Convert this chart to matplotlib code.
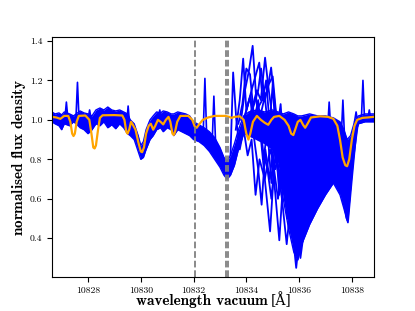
import numpy as np
import matplotlib
matplotlib.use("Agg")
import matplotlib.pyplot as plt

plt.rcParams['font.family'] = 'serif'
plt.rcParams['font.serif'] = ['cmr10']
plt.rcParams['mathtext.fontset'] = 'cm'
plt.rcParams['axes.formatter.use_mathtext'] = False
plt.rcParams['axes.unicode_minus'] = False

# He I triplet (vacuum)
he_lines = [10832.057, 10833.217, 10833.306]

# dense band of stacked spectra: upper / lower envelope
band_wl = [10826.63, 10826.75, 10826.9, 10827.0, 10827.1, 10827.3, 10827.45, 10827.55, 10827.7,
           10827.85, 10828.0, 10828.15, 10828.3, 10828.45, 10828.6, 10828.75, 10828.9, 10829.05,
           10829.2, 10829.35, 10829.5, 10829.6, 10829.75, 10829.9, 10830.0, 10830.1, 10830.2,
           10830.35, 10830.47, 10830.6, 10830.75, 10830.85, 10831.0, 10831.15, 10831.25, 10831.4,
           10831.55, 10831.7, 10831.85, 10832.0, 10832.2, 10832.4, 10832.6, 10832.8, 10833.0,
           10833.15, 10833.27, 10833.4, 10833.55, 10833.7, 10833.9, 10834.1, 10834.4, 10834.7,
           10835.0, 10835.2, 10835.4, 10835.6, 10835.8, 10835.95, 10836.1, 10836.4, 10836.7,
           10837.0, 10837.3, 10837.55, 10837.7, 10837.82, 10837.95, 10838.1, 10838.25, 10838.5,
           10838.82]
band_hi = [1.04, 1.03, 1.035, 1.025, 1.04, 1.03, 1.02, 1.03, 1.045,
           1.035, 1.03, 1.02, 1.05, 1.06, 1.05, 1.065, 1.05, 1.045,
           1.05, 1.04, 1.03, 1.0, 0.98, 0.92, 0.87, 0.89, 0.95,
           1.0, 1.02, 1.04, 1.035, 1.045, 1.04, 1.03, 1.03, 1.04,
           1.035, 1.03, 1.02, 0.99, 0.975, 0.96, 0.94, 0.91, 0.86,
           0.81, 0.79, 0.82, 0.88, 0.95, 1.02, 1.04, 1.05, 1.04,
           1.05, 1.04, 1.03, 1.04, 1.03, 1.02, 1.02, 1.03, 1.02,
           1.02, 1.01, 0.99, 0.95, 0.9, 0.92, 0.99, 1.02, 1.03,
           1.03]
band_lo = [0.99, 0.98, 0.97, 0.95, 0.98, 0.97, 0.99, 0.98, 0.96,
           0.95, 0.93, 0.95, 0.98, 0.97, 0.99, 0.96, 0.975, 0.955,
           0.98, 0.96, 0.93, 0.92, 0.9, 0.84, 0.80, 0.81, 0.85,
           0.9, 0.92, 0.95, 0.96, 0.94, 0.96, 0.95, 0.92, 0.95,
           0.94, 0.93, 0.92, 0.9, 0.89, 0.87, 0.84, 0.8, 0.76,
           0.72, 0.70, 0.72, 0.77, 0.85, 0.93, 0.92, 0.9, 0.88,
           0.85, 0.78, 0.6, 0.45, 0.33, 0.29, 0.37, 0.47, 0.55,
           0.62, 0.68, 0.62, 0.55, 0.49, 0.68, 0.92, 0.98, 0.99,
           0.99]

# individual spectra in the variable region
curves = [
    ([10833.4, 10833.5, 10833.62, 10833.75, 10833.9, 10834.05, 10834.2, 10834.35, 10834.5, 10834.7,
      10834.9, 10835.1, 10835.3, 10835.5, 10835.7, 10835.9, 10836.1, 10836.3, 10836.5, 10836.7,
      10836.9, 10837.1, 10837.3, 10837.5, 10837.65, 10837.8, 10837.95, 10838.1, 10838.3],
     [0.82, 1.24, 1.0, 0.85, 0.95, 0.82, 0.9, 0.62, 0.8, 0.7,
      0.85, 0.75, 0.9, 0.8, 0.88, 0.78, 0.9, 0.82, 0.92, 0.8,
      0.9, 0.82, 0.9, 0.8, 0.62, 0.55, 0.8, 0.98, 1.0]),
    ([10833.6, 10833.75, 10833.88, 10834.0, 10834.15, 10834.3, 10834.45, 10834.58, 10834.72, 10834.88,
      10835.05, 10835.25, 10835.45, 10835.65, 10835.85, 10836.05, 10836.25, 10836.45, 10836.65, 10836.85,
      10837.05, 10837.25, 10837.45, 10837.6, 10837.8, 10838.0, 10838.2],
     [0.95, 1.1, 1.31, 1.05, 1.12, 0.9, 0.75, 0.57, 0.85, 0.7,
      0.88, 0.72, 0.85, 0.65, 0.8, 0.6, 0.82, 0.7, 0.85, 0.72,
      0.88, 0.75, 0.85, 0.7, 0.5, 0.85, 1.0]),
    ([10833.8, 10833.95, 10834.1, 10834.24, 10834.38, 10834.52, 10834.7, 10834.9, 10835.05, 10835.2,
      10835.4, 10835.6, 10835.8, 10836.0, 10836.2, 10836.4, 10836.6, 10836.8, 10837.0, 10837.2,
      10837.4, 10837.6, 10837.8, 10838.0, 10838.2],
     [1.0, 1.15, 1.25, 1.375, 1.1, 0.95, 0.7, 0.435, 0.75, 0.6,
      0.8, 0.55, 0.72, 0.5, 0.75, 0.7, 0.88, 0.75, 0.9, 0.8,
      0.92, 0.72, 0.52, 0.88, 1.0]),
    ([10833.9, 10834.1, 10834.3, 10834.49, 10834.62, 10834.75, 10834.9, 10835.05, 10835.25, 10835.4,
      10835.55, 10835.75, 10835.95, 10836.15, 10836.35, 10836.55, 10836.75, 10836.95, 10837.15, 10837.35,
      10837.55, 10837.75, 10837.9, 10838.1, 10838.3],
     [1.0, 1.1, 1.2, 1.29, 1.1, 1.2, 0.95, 0.7, 0.39, 0.7,
      0.55, 0.75, 0.5, 0.8, 0.75, 0.9, 0.8, 0.93, 0.85, 0.92,
      0.78, 0.55, 0.7, 0.97, 1.0]),
    ([10834.0, 10834.2, 10834.4, 10834.55, 10834.71, 10834.85, 10835.0, 10835.15, 10835.35, 10835.53,
      10835.7, 10835.9, 10836.1, 10836.3, 10836.5, 10836.7, 10836.9, 10837.1, 10837.3, 10837.5,
      10837.7, 10837.85, 10838.0, 10838.2],
     [1.0, 1.05, 1.15, 1.1, 1.315, 1.15, 1.0, 0.8, 0.6, 0.37,
      0.6, 0.45, 0.7, 0.78, 0.72, 0.85, 0.75, 0.88, 0.8, 0.85,
      0.6, 0.5, 0.75, 1.0]),
    ([10834.2, 10834.4, 10834.6, 10834.8, 10834.94, 10835.1, 10835.3, 10835.5, 10835.7, 10835.89,
      10836.05, 10836.25, 10836.45, 10836.65, 10836.85, 10837.05, 10837.25, 10837.45, 10837.65, 10837.85,
      10838.0, 10838.2],
     [1.0, 1.05, 1.1, 1.15, 1.265, 1.05, 0.9, 0.7, 0.5, 0.25,
      0.45, 0.6, 0.55, 0.7, 0.62, 0.75, 0.7, 0.78, 0.6, 0.48,
      0.7, 0.98]),
    ([10833.7, 10833.85, 10834.0, 10834.14, 10834.3, 10834.45, 10834.62, 10834.8, 10834.95, 10835.1,
      10835.3, 10835.5, 10835.7, 10835.9, 10836.1, 10836.3, 10836.5, 10836.7, 10836.9, 10837.1,
      10837.3, 10837.5, 10837.7, 10837.85, 10838.05, 10838.25],
     [0.98, 1.08, 1.26, 1.23, 1.0, 1.1, 0.85, 0.75, 0.6, 0.82,
      0.65, 0.8, 0.6, 0.72, 0.55, 0.88, 0.8, 0.9, 0.78, 0.85,
      0.75, 0.82, 0.65, 0.52, 0.8, 1.0]),
    ([10834.1, 10834.3, 10834.45, 10834.56, 10834.7, 10834.85, 10835.0, 10835.15, 10835.3, 10835.45,
      10835.6, 10835.75, 10835.95, 10836.15, 10836.35, 10836.55, 10836.75, 10836.95, 10837.15, 10837.35,
      10837.55, 10837.75, 10837.9, 10838.1],
     [1.0, 1.08, 1.15, 1.26, 1.1, 1.18, 1.22, 1.0, 0.85, 0.65,
      0.75, 0.5, 0.35, 0.55, 0.8, 0.75, 0.9, 0.78, 0.9, 0.82,
      0.8, 0.58, 0.62, 0.95]),
    ([10833.95, 10834.15, 10834.35, 10834.5, 10834.65, 10834.8, 10834.95, 10835.1, 10835.25, 10835.4,
      10835.55, 10835.7, 10835.85, 10836.0, 10836.2, 10836.4, 10836.6, 10836.8, 10837.0, 10837.2],
     [1.02, 1.12, 0.95, 1.05, 0.8, 0.95, 0.68, 0.9, 0.62, 0.85,
      0.5, 0.7, 0.42, 0.62, 0.85, 0.78, 0.92, 0.82, 0.93, 0.88]),
    ([10834.3, 10834.5, 10834.7, 10834.85, 10835.0, 10835.12, 10835.3, 10835.45, 10835.6, 10835.75,
      10835.9, 10836.05, 10836.25, 10836.45, 10836.65],
     [1.03, 1.0, 1.12, 0.92, 1.18, 0.9, 1.08, 0.78, 0.95, 0.45,
      0.6, 0.3, 0.5, 0.62, 0.8]),
]

# narrow spikes (centre, peak, base)
spike_wl = [10827.18, 10827.6, 10828.06, 10829.52, 10830.72, 10832.43, 10832.77,
            10837.14, 10837.66, 10838.16, 10838.42, 10838.66]
spike_top = [1.09, 1.19, 1.05, 1.07, 1.05, 1.21, 1.12, 1.09, 1.10, 1.04, 1.2, 1.05]
spike_base = [1.0, 1.0, 1.0, 0.97, 1.0, 0.95, 0.9, 0.95, 0.92, 0.99, 1.0, 1.0]

# model / telluric spectrum
model_wl = [10826.63, 10826.8, 10826.95, 10827.1, 10827.25, 10827.33, 10827.4, 10827.45, 10827.5,
            10827.57, 10827.65, 10827.9, 10828.05, 10828.13, 10828.2, 10828.25, 10828.3, 10828.38,
            10828.45, 10828.55, 10829.0, 10829.3, 10829.38, 10829.45, 10829.5, 10829.56, 10829.63,
            10829.7, 10829.8, 10829.9, 10830.0, 10830.05, 10830.12, 10830.2, 10830.3, 10830.38,
            10830.47, 10830.55, 10830.65, 10830.75, 10830.85, 10830.95, 10831.05, 10831.12, 10831.2,
            10831.25, 10831.3, 10831.38, 10831.5, 10831.8, 10831.95, 10832.05, 10832.12, 10832.2,
            10832.35, 10832.55, 10832.8, 10833.2, 10833.35, 10833.44, 10833.55, 10833.75, 10833.9,
            10834.0, 10834.08, 10834.15, 10834.25, 10834.4, 10834.55, 10834.7, 10834.83, 10834.95,
            10835.05, 10835.25, 10835.45, 10835.6, 10835.7, 10835.78, 10835.85, 10835.95, 10836.05,
            10836.15, 10836.23, 10836.32, 10836.45, 10836.8, 10837.1, 10837.3, 10837.45, 10837.55,
            10837.65, 10837.75, 10837.82, 10837.9, 10838.0, 10838.1, 10838.2, 10838.4, 10838.6,
            10838.82]
model_fl = [1.015, 1.012, 1.005, 1.02, 1.02, 0.99, 0.93, 0.918, 0.93,
            0.99, 1.02, 1.022, 1.0, 0.93, 0.86, 0.855, 0.87, 0.95,
            1.01, 1.023, 1.024, 1.022, 1.0, 0.94, 0.93, 0.95, 0.99,
            0.975, 0.95, 0.89, 0.84, 0.836, 0.86, 0.93, 0.97, 0.98,
            0.95, 0.97, 1.0, 0.99, 0.977, 1.0, 1.015, 0.99, 0.93,
            0.923, 0.94, 0.99, 1.02, 1.02, 1.0, 0.965, 0.96, 0.975,
            1.0, 1.012, 1.02, 1.02, 1.015, 1.01, 1.015, 1.018, 1.0,
            0.93, 0.90, 0.93, 0.99, 1.02, 1.0, 0.985, 0.975, 1.0,
            1.015, 1.02, 1.0, 0.97, 0.93, 0.923, 0.95, 0.99, 1.0,
            0.975, 0.96, 0.98, 1.012, 1.018, 1.015, 1.005, 0.97, 0.9,
            0.81, 0.77, 0.765, 0.8, 0.9, 0.97, 1.0, 1.01, 1.012,
            1.015]

fig = plt.figure(figsize=(4.15, 3.11), dpi=100)
ax = fig.add_axes([0.125, 0.11, 0.775, 0.77])

ax.fill_between(band_wl, band_lo, band_hi, color='blue', lw=0)
ax.plot(band_wl, band_hi, color='blue', lw=1)
ax.plot(band_wl, band_lo, color='blue', lw=1)
for cx, cy in curves:
    ax.plot(cx, cy, color='blue', lw=1.3)
for w, t, b in zip(spike_wl, spike_top, spike_base):
    ax.plot([w - 0.06, w, w + 0.06], [b, t, b], color='blue', lw=1.2)

ax.plot(model_wl, model_fl, color='orange', lw=1.6)

for w in he_lines:
    ax.axvline(w, color='grey', ls='--', lw=1.3)

ax.set_xlim(10826.63, 10838.82)
ax.set_ylim(0.205, 1.418)
ax.set_xticks([10828, 10830, 10832, 10834, 10836, 10838])
ax.set_xticklabels(['10828', '10830', '10832', '10834', '10836', '10838'])
ax.set_yticks([0.4, 0.6, 0.8, 1.0, 1.2, 1.4])
ax.set_yticklabels(['0.4', '0.6', '0.8', '1.0', '1.2', '1.4'])
ax.tick_params(labelsize=7)

# x label: bold words plus regular unit, placed as two texts on one baseline
fig.text(268 / 415, 1 - 305 / 311, 'wavelength vacuum', family='cmb10', fontsize=11,
         ha='right', va='baseline')
fig.text(271 / 415, 1 - 305 / 311, '[Å]', family='DejaVu Serif', fontsize=10,
         ha='left', va='baseline')
ax.set_ylabel(r'$\mathbf{normalised\ flux\ density}$', fontsize=11)
ax.yaxis.set_label_coords(-0.075, 0.5)

fig.savefig('out.png', dpi=100)
